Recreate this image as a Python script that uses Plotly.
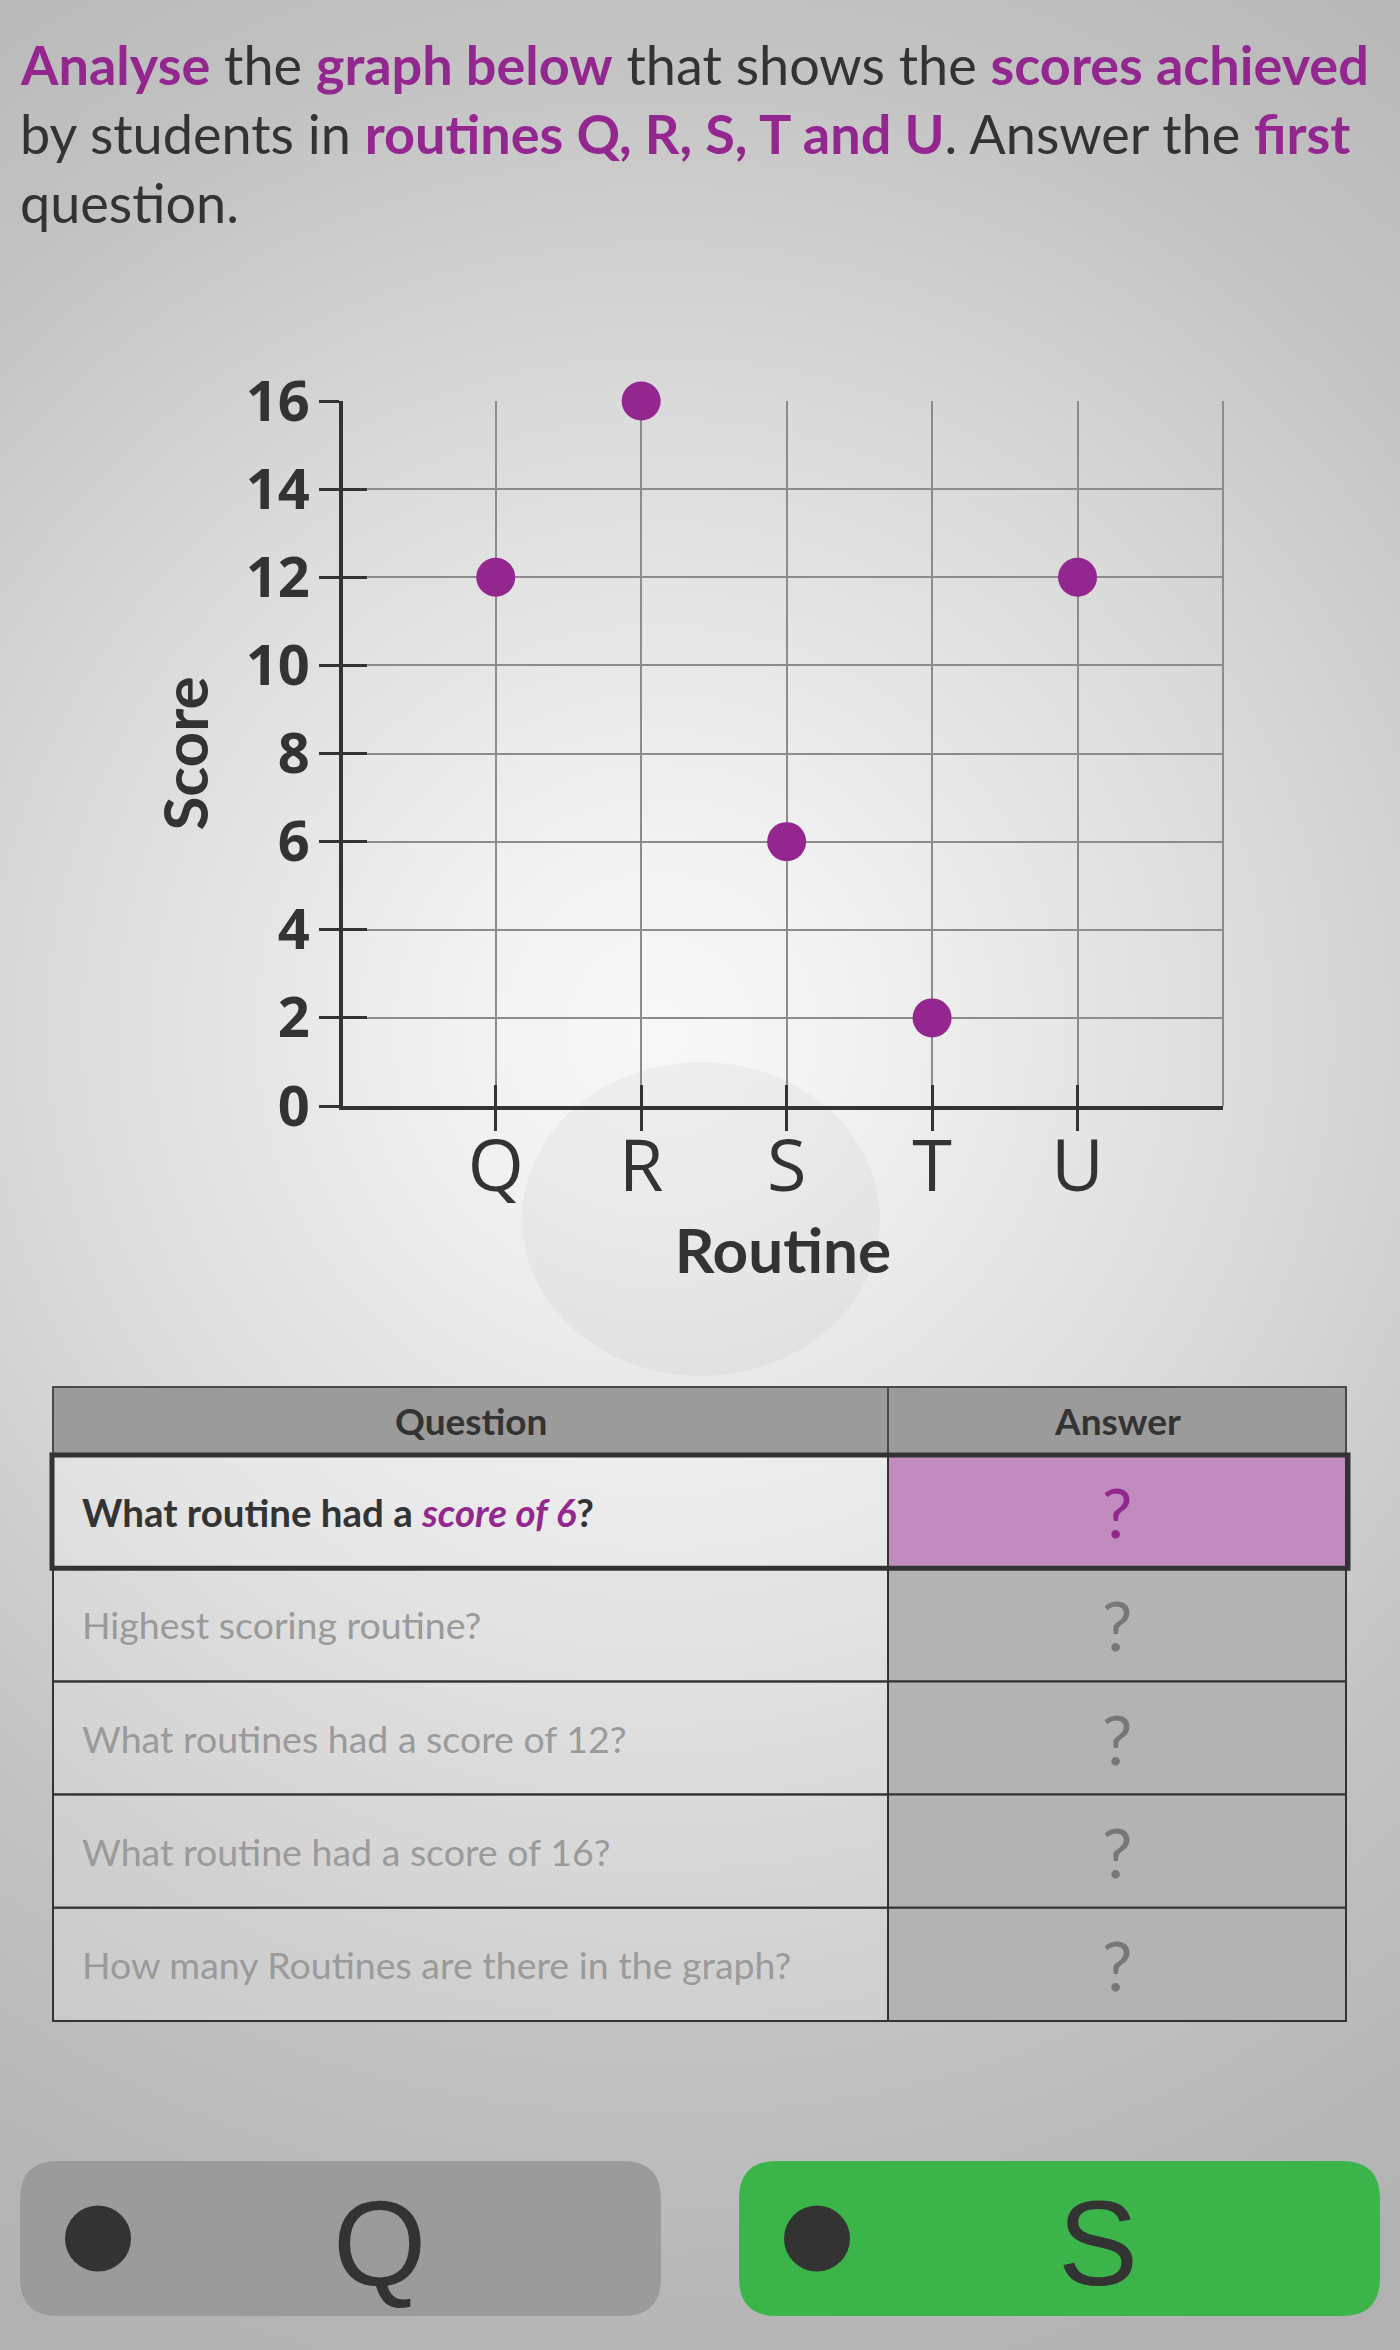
import base64
import plotly.graph_objects as go

W, H = 1400, 2350

# ---------------- data ----------------
routines = ["Q", "R", "S", "T", "U"]
scores = [12, 16, 6, 2, 12]
y_tick_vals = [0, 2, 4, 6, 8, 10, 12, 14, 16]

title_lines = [
    "<b><span style='color:#93278f'>Analyse</span></b> the <b><span style='color:#93278f'>graph below</span></b>"
    " that shows the <b><span style='color:#93278f'>scores achieved</span></b>",
    "by students in <b><span style='color:#93278f'>routines Q, R, S, T and U</span></b>. Answer the "
    "<b><span style='color:#93278f'>first</span></b>",
    "question.",
]

table_header = ["Question", "Answer"]
questions = [
    "<b>What routine had a <i><span style='color:#93278f'>score of 6</span></i>?</b>",
    "Highest scoring routine?",
    "What routines had a score of 12?",
    "What routine had a score of 16?",
    "How many Routines are there in the graph?",
]
answers = ["?", "?", "?", "?", "?"]
choices = ["Q", "S"]
choice_colors = ["#9b9b9b", "#3bb54a"]

# ---------------- styles ----------------
PURPLE = "#93278f"
DARK = "#333333"
GRID = "#8c8c8c"
TXT_FONT = "Lato"
TICK_FONT = "Open Sans"


def px(x):
    return x / W


def py(y):
    return 1 - y / H


# background radial gradient as an svg image
svg = (
    "<svg xmlns='http://www.w3.org/2000/svg' width='1400' height='2350' viewBox='0 0 1400 2350'>"
    "<defs><radialGradient id='g' gradientUnits='userSpaceOnUse' cx='660' cy='1030' r='1400'>"
    "<stop offset='0' stop-color='#f8f8f8'/>"
    "<stop offset='0.12' stop-color='#f3f3f3'/>"
    "<stop offset='0.45' stop-color='#dadada'/>"
    "<stop offset='0.7' stop-color='#c3c3c3'/>"
    "<stop offset='1' stop-color='#b2b2b2'/>"
    "</radialGradient></defs>"
    "<rect width='1400' height='2350' fill='url(#g)'/></svg>"
)
svg_uri = "data:image/svg+xml;base64," + base64.b64encode(svg.encode()).decode()

fig = go.Figure()

fig.add_trace(go.Scatter(
    x=routines, y=scores, mode="markers",
    marker=dict(size=39, color=PURPLE, line=dict(width=0)),
    cliponaxis=False, showlegend=False, hoverinfo="skip",
))
# twin trace on overlay axes (used for the inner half of the crossing ticks)
fig.add_trace(go.Scatter(
    x=routines, y=scores, mode="markers", xaxis="x2", yaxis="y2",
    marker=dict(size=1, opacity=0), showlegend=False, hoverinfo="skip",
))

x_dom = [px(343), px(1223)]
y_dom = [py(1106), py(401)]
x_rng = [-1.05, 5.0]

fig.update_layout(
    width=W, height=H,
    margin=dict(l=0, r=0, t=0, b=0),
    paper_bgcolor="#c0c0c0",
    plot_bgcolor="rgba(0,0,0,0)",
    showlegend=False,
    xaxis=dict(
        type="category", categoryorder="array", categoryarray=routines,
        domain=x_dom, range=x_rng, automargin=False,
        showline=True, linecolor=DARK, linewidth=4,
        ticks="outside", ticklen=21, tickwidth=3, tickcolor=DARK,
        showgrid=True, gridcolor=GRID, gridwidth=2, zeroline=False,
        tickfont=dict(family=TICK_FONT, size=72, color=DARK),
        ticklabelstandoff=-26,
        title=dict(text="<b>Routine</b>", font=dict(family=TXT_FONT, size=62, color=DARK), standoff=8),
        fixedrange=True,
    ),
    yaxis=dict(
        domain=y_dom, range=[0, 16], automargin=False,
        tickvals=y_tick_vals,
        showline=True, linecolor=DARK, linewidth=4,
        ticks="outside", ticklen=20, tickwidth=3, tickcolor=DARK,
        showgrid=True, gridcolor=GRID, gridwidth=2, zeroline=False,
        tickfont=dict(family=TICK_FONT, size=56, color=DARK, weight=700),
        ticklabelstandoff=-2,
        title=dict(text="<b>Score</b>", font=dict(family=TXT_FONT, size=62, color=DARK), standoff=18),
        fixedrange=True,
    ),
    xaxis2=dict(
        type="category", categoryorder="array", categoryarray=routines,
        overlaying="x", anchor="y2", range=x_rng,
        showline=False, showgrid=False, zeroline=False,
        ticks="inside", ticklen=21, tickwidth=3, tickcolor=DARK,
        showticklabels=False, fixedrange=True,
    ),
    yaxis2=dict(
        overlaying="y", anchor="x2", side="left", range=[0, 16],
        tickvals=y_tick_vals,
        showline=False, showgrid=False, zeroline=False,
        ticks="inside", ticklen=24, tickwidth=3, tickcolor=DARK,
        showticklabels=False, fixedrange=True,
    ),
    images=[dict(
        source=svg_uri, xref="paper", yref="paper", x=0, y=1,
        sizex=1, sizey=1, xanchor="left", yanchor="top",
        sizing="stretch", layer="below",
    )],
)

shapes = []
annotations = []

# faint blob behind the x-axis labels
shapes.append(dict(type="circle", xref="paper", yref="paper", layer="below",
                   x0=px(522), x1=px(880), y0=py(1376), y1=py(1062),
                   fillcolor="rgba(140,140,140,0.08)", line=dict(width=0)))

# right frame edge of the chart
shapes.append(dict(type="line", xref="x domain", yref="y domain", x0=1, x1=1, y0=0, y1=1,
                   line=dict(color=GRID, width=2)))

# title lines
title_base = [82, 151, 220]
TITLE_SIZE = 54
for line, base in zip(title_lines, title_base):
    annotations.append(dict(
        text=line, xref="paper", yref="paper", x=px(18), y=py(base - 0.33 * TITLE_SIZE),
        xanchor="left", yanchor="middle", showarrow=False, align="left",
        font=dict(family=TXT_FONT, size=TITLE_SIZE, color=DARK),
    ))

# ---------------- table ----------------
T_L, T_R, T_DIV = 53, 1346, 888
HEAD_TOP, HEAD_BOT = 1387, 1455
ROW_H = 113.2
TBL_LINE = "#333333"

# header
shapes.append(dict(type="rect", xref="paper", yref="paper",
                   x0=px(T_L), x1=px(T_R), y0=py(HEAD_BOT), y1=py(HEAD_TOP),
                   fillcolor="#9b9b9b", line=dict(color="#4a4a4a", width=2)))
shapes.append(dict(type="line", xref="paper", yref="paper",
                   x0=px(T_DIV), x1=px(T_DIV), y0=py(HEAD_BOT), y1=py(HEAD_TOP),
                   line=dict(color="#4a4a4a", width=2)))
for txt, (a, b) in zip(table_header, [(T_L, T_DIV), (T_DIV, T_R)]):
    annotations.append(dict(
        text="<b>" + txt + "</b>", xref="paper", yref="paper",
        x=px((a + b) / 2), y=py((HEAD_TOP + HEAD_BOT) / 2),
        xanchor="center", yanchor="middle", showarrow=False,
        font=dict(family=TXT_FONT, size=37, color=DARK),
    ))

for i, (q, a) in enumerate(zip(questions, answers)):
    top = HEAD_BOT + i * ROW_H
    bot = top + ROW_H
    active = i == 0
    shapes.append(dict(type="rect", xref="paper", yref="paper",
                       x0=px(T_L), x1=px(T_DIV), y0=py(bot), y1=py(top),
                       fillcolor="rgba(255,255,255,0.32)" if active else "rgba(255,255,255,0.22)",
                       line=dict(color=TBL_LINE, width=2)))
    shapes.append(dict(type="rect", xref="paper", yref="paper",
                       x0=px(T_DIV), x1=px(T_R), y0=py(bot), y1=py(top),
                       fillcolor="#c28bbf" if active else "#b3b3b3",
                       line=dict(color=TBL_LINE, width=2)))
    annotations.append(dict(
        text=q, xref="paper", yref="paper", x=px(T_L + 27), y=py((top + bot) / 2),
        xanchor="left", yanchor="middle", showarrow=False,
        font=dict(family=TXT_FONT, size=38.5 if active else 37.5, color=DARK if active else "#9a9a9a"),
    ))
    annotations.append(dict(
        text=a, xref="paper", yref="paper", x=px((T_DIV + T_R) / 2), y=py((top + bot) / 2),
        xanchor="center", yanchor="middle", showarrow=False,
        font=dict(family=TXT_FONT, size=68, color=PURPLE if active else "#777777"),
    ))

# thick frame around the active row
shapes.append(dict(type="rect", xref="paper", yref="paper",
                   x0=px(T_L - 1), x1=px(T_R + 2), y0=py(HEAD_BOT + ROW_H), y1=py(HEAD_BOT),
                   line=dict(color=TBL_LINE, width=5)))

# ---------------- choice buttons ----------------
BTN_TOP, BTN_BOT, BTN_R = 2161, 2316, 38
btn_spans = [(20, 661), (739, 1380)]


def rounded_rect(x0, y0, x1, y1, r):
    X0, X1 = px(x0), px(x1)
    Y0, Y1 = py(y1), py(y0)  # bottom, top in paper coords
    rx, ry = r / W, r / H
    return (f"M {X0 + rx} {Y1} L {X1 - rx} {Y1} Q {X1} {Y1} {X1} {Y1 - ry} "
            f"L {X1} {Y0 + ry} Q {X1} {Y0} {X1 - rx} {Y0} L {X0 + rx} {Y0} "
            f"Q {X0} {Y0} {X0} {Y0 + ry} L {X0} {Y1 - ry} Q {X0} {Y1} {X0 + rx} {Y1} Z")


for label, color, (a, b) in zip(choices, choice_colors, btn_spans):
    shapes.append(dict(type="path", xref="paper", yref="paper",
                       path=rounded_rect(a, BTN_TOP, b, BTN_BOT, BTN_R),
                       fillcolor=color, line=dict(width=0)))
    cx, cy, rr = a + 78, (BTN_TOP + BTN_BOT) / 2, 33
    shapes.append(dict(type="circle", xref="paper", yref="paper",
                       x0=px(cx - rr), x1=px(cx + rr), y0=py(cy + rr), y1=py(cy - rr),
                       fillcolor=DARK, line=dict(width=0)))
    annotations.append(dict(
        text=label, xref="paper", yref="paper", x=px(a + 359), y=py(cy + 4),
        xanchor="center", yanchor="middle", showarrow=False,
        font=dict(family="Liberation Sans", size=120, color=DARK),
    ))

fig.update_layout(shapes=shapes, annotations=annotations)

fig.write_html(
    "out.html",
    config={"displayModeBar": False},
    post_script="document.body.style.margin='0px';document.body.style.overflow='hidden';",
)
